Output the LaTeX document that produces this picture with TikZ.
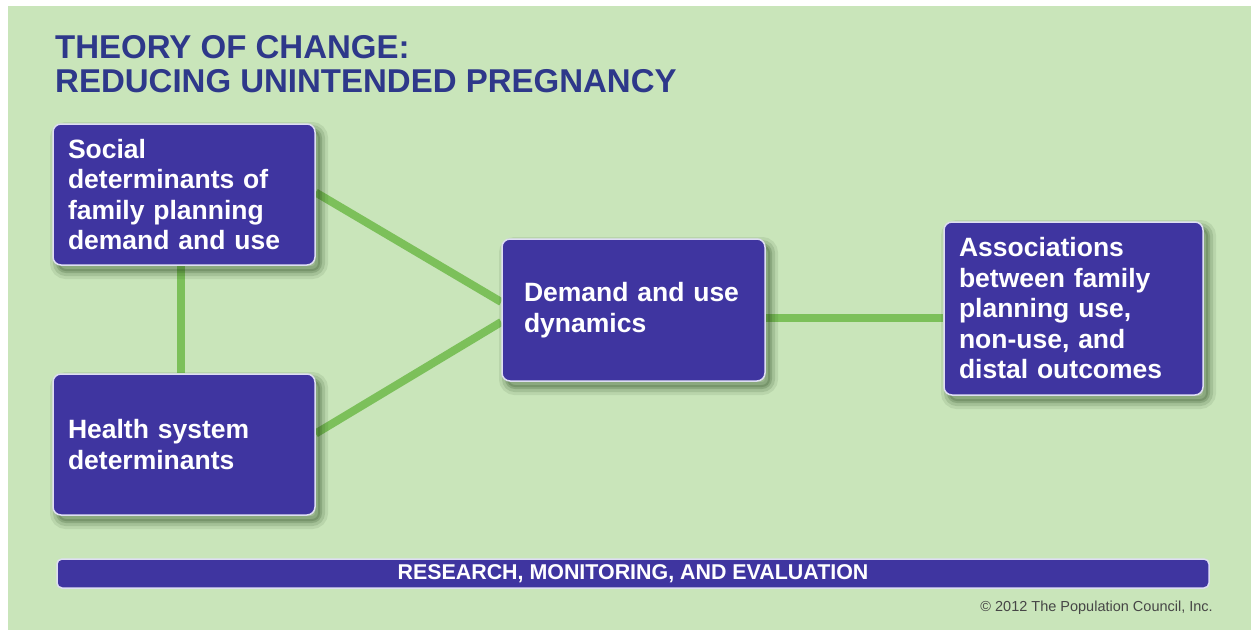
\documentclass[tikz,border=0pt]{standalone}
\usepackage{fontspec}
\setmainfont{Liberation Sans}
\definecolor{bggreen}{RGB}{201,229,186}
\definecolor{titleblue}{RGB}{46,56,138}
\definecolor{boxblue}{RGB}{63,53,160}
\definecolor{boxedge}{RGB}{222,222,242}
\definecolor{linegreen}{RGB}{124,192,90}
\definecolor{copygray}{RGB}{70,70,70}
\definecolor{shadowcol}{RGB}{30,60,20}
\pgfdeclarelayer{edges}
\pgfsetlayers{edges,main}
\tikzset{
  softshadow/.style={
    preaction={draw=shadowcol, line width=16pt, opacity=0.09, transform canvas={xshift=5pt,yshift=-6pt}},
    preaction={draw=shadowcol, line width=10pt, opacity=0.13, transform canvas={xshift=5pt,yshift=-6pt}},
    preaction={draw=shadowcol, fill=shadowcol, line width=4pt, opacity=0.18, transform canvas={xshift=5pt,yshift=-6pt}}},
  box/.style={rectangle, rounded corners=8pt, fill=boxblue, draw=boxedge, line width=1.5pt,
    text=white, align=left, font=\fontsize{26.5}{30.5}\selectfont\bfseries, softshadow},
  conn/.style={draw=linegreen, line width=8pt},
  bar/.style={rectangle, rounded corners=5pt, fill=boxblue, draw=boxedge, line width=1.5pt,
    text=white, font=\fontsize{21.4}{24}\selectfont\bfseries},
}
\begin{document}
\begin{tikzpicture}[x=1pt,y=-1pt]
\useasboundingbox (0,0) rectangle (1251,630);
\begin{pgfonlayer}{edges}
  \fill[white] (0,0) rectangle (1251,630);
  \fill[bggreen] (8,6) rectangle (1251,630);
\end{pgfonlayer}

\node[anchor=north west, inner sep=0pt, align=left, text=titleblue,
      font=\fontsize{33}{34}\selectfont\bfseries] (title) at (55,35)
  {THEORY OF CHANGE:\\REDUCING UNINTENDED PREGNANCY};

\node[box, minimum width=262pt, minimum height=141pt, inner xsep=15pt, text width=232pt] (soc) at (184,194.5)
  {Social\\determinants of\\family planning\\demand and use};
\node[box, minimum width=262pt, minimum height=141pt, inner xsep=15pt, text width=232pt] (hea) at (184,444.5)
  {Health system\\determinants};
\node[box, minimum width=263pt, minimum height=142pt, inner xsep=22pt, text width=219pt] (dem) at (633.5,310)
  {Demand and use\\dynamics};
\node[box, minimum width=259pt, minimum height=173pt, inner xsep=15pt, text width=229pt] (ass) at (1073.5,308.5)
  {Associations\\between family\\planning use,\\non-use, and\\distal outcomes};

\node[bar, minimum width=1152pt, minimum height=29pt, inner sep=0pt] (rme) at (633,573.5)
  {RESEARCH, MONITORING, AND EVALUATION};

\node[anchor=base east, inner sep=0pt, text=copygray, font=\fontsize{14.5}{16}\selectfont] (copy) at (1213,611)
  {\textcopyright{} 2012 The Population Council, Inc.};

\begin{pgfonlayer}{edges}
  \draw[conn] ([xshift=-3pt]soc.south) -- ([xshift=-3pt]hea.north);
  \draw[conn] ([yshift=2pt]soc.east) -- ([yshift=8pt]dem.west);
  \draw[conn] ([yshift=11pt]hea.east) -- ([yshift=-12pt]dem.west);
  \draw[conn] ([yshift=-8pt]dem.east) -- ([yshift=-8pt]dem.east -| ass.west);
\end{pgfonlayer}
\end{tikzpicture}
\end{document}
